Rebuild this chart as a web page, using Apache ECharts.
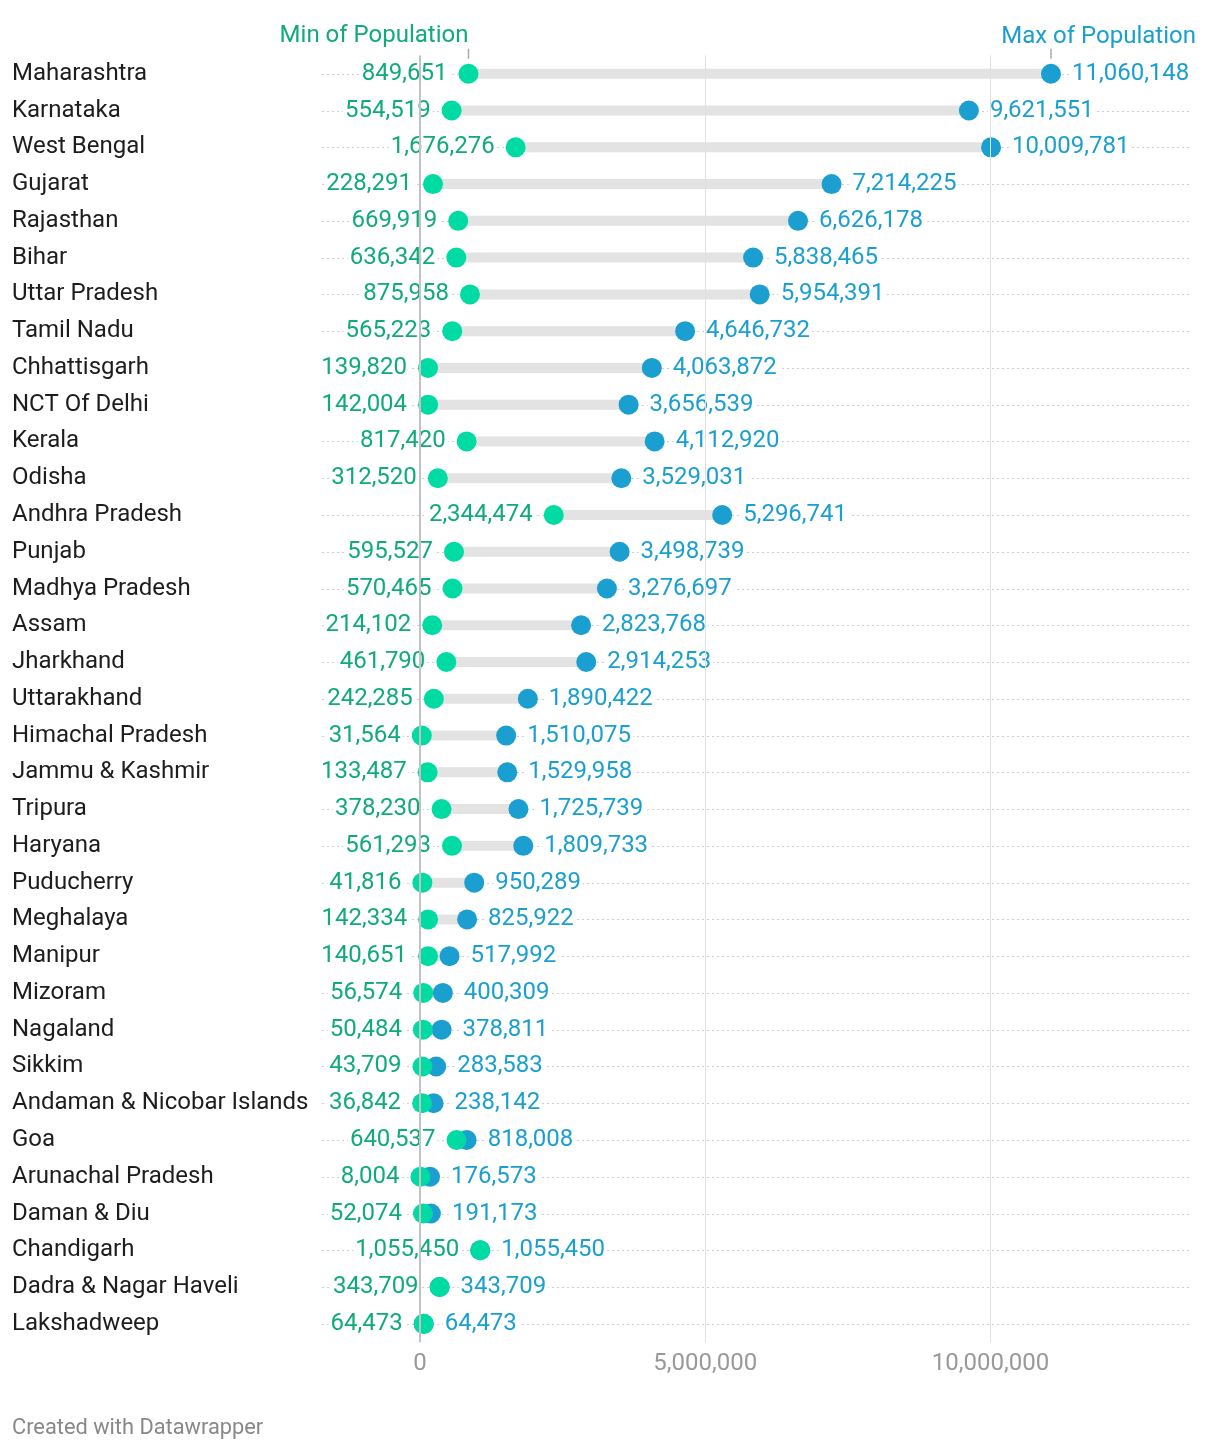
<!DOCTYPE html>
<html>
<head>
<meta charset="utf-8">
<script src="https://cdn.jsdelivr.net/npm/echarts@6/dist/echarts.min.js"></script>
<style>
html,body{margin:0;padding:0;background:#fff;}
#chart{width:1220px;height:1450px;}
</style>
</head>
<body>
<div id="chart"></div>
<script>
const states = ["Maharashtra","Karnataka","West Bengal","Gujarat","Rajasthan","Bihar","Uttar Pradesh","Tamil Nadu","Chhattisgarh","NCT Of Delhi","Kerala","Odisha","Andhra Pradesh","Punjab","Madhya Pradesh","Assam","Jharkhand","Uttarakhand","Himachal Pradesh","Jammu & Kashmir","Tripura","Haryana","Puducherry","Meghalaya","Manipur","Mizoram","Nagaland","Sikkim","Andaman & Nicobar Islands","Goa","Arunachal Pradesh","Daman & Diu","Chandigarh","Dadra & Nagar Haveli","Lakshadweep"];
const minPop = [849651,554519,1676276,228291,669919,636342,875958,565223,139820,142004,817420,312520,2344474,595527,570465,214102,461790,242285,31564,133487,378230,561293,41816,142334,140651,56574,50484,43709,36842,640537,8004,52074,1055450,343709,64473];
const maxPop = [11060148,9621551,10009781,7214225,6626178,5838465,5954391,4646732,4063872,3656539,4112920,3529031,5296741,3498739,3276697,2823768,2914253,1890422,1510075,1529958,1725739,1809733,950289,825922,517992,400309,378811,283583,238142,818008,176573,191173,1055450,343709,64473];
const xTicks = [0, 5000000, 10000000];
const minLabel = "Min of Population";
const maxLabel = "Max of Population";
const footer = "Created with Datawrapper";

const FONT = 'Roboto';
const FS = 24;
const GREEN = '#00dba3';
const GREEN_TEXT = '#10aa7c';
const BLUE = '#1a9fd0';
const BLUE_TEXT = '#1a9fd0';
const fmt = v => Number(v).toLocaleString('en-US');

const chart = echarts.init(document.getElementById('chart'), null, {renderer: 'canvas'});

const rowsData = states.map((s, i) => [i]);
const rangeData = states.map((s, i) => [minPop[i], maxPop[i], i]);

chart.setOption({
  animation: false,
  backgroundColor: '#fff',
  textStyle: {fontFamily: FONT},
  title: [
    {text: maxLabel, right: 19, top: 20, textStyle: {color: BLUE_TEXT, fontSize: FS, fontWeight: 'normal', fontFamily: FONT}},
    {text: footer, left: 7, top: 1413, textStyle: {color: '#888', fontSize: 21.8, fontWeight: 'normal', fontFamily: FONT}}
  ],
  grid: {left: 322, right: 30, top: 55.4, bottom: 107.8, containLabel: false},
  xAxis: {
    type: 'value',
    min: -1717800,
    max: 13497000,
    axisLine: {show: false},
    axisTick: {show: false},
    splitLine: {show: false},
    axisLabel: {
      customValues: xTicks,
      formatter: v => fmt(v),
      color: '#999',
      fontSize: FS,
      fontFamily: FONT,
      margin: 10
    }
  },
  yAxis: {
    type: 'category',
    data: states,
    inverse: true,
    axisLine: {show: false},
    axisTick: {show: false},
    splitLine: {show: false},
    axisLabel: {
      align: 'left',
      margin: 310,
      color: '#1d1d1d',
      fontSize: FS,
      fontFamily: FONT
    }
  },
  series: [
    {
      type: 'custom',
      name: 'rows',
      z: 1,
      silent: true,
      data: rowsData,
      encode: {y: 0},
      renderItem: function (params, api) {
        const y = api.coord([0, api.value(0)])[1];
        const cs = params.coordSys;
        return {
          type: 'line',
          shape: {x1: cs.x, y1: Math.round(y) + 0.5, x2: cs.x + cs.width, y2: Math.round(y) + 0.5},
          style: {stroke: '#cfcfcf', lineWidth: 1, lineDash: [2, 3]}
        };
      },
      markLine: {
        silent: true,
        symbol: 'none',
        label: {show: false},
        data: xTicks.map(v => ({
          xAxis: v,
          lineStyle: {color: v === 0 ? '#c2c2c2' : '#e0e0e0', width: v === 0 ? 2 : 1, type: 'solid'}
        }))
      }
    },
    {
      type: 'custom',
      name: 'range',
      z: 2,
      silent: true,
      data: rangeData,
      encode: {x: [0, 1], y: 2},
      renderItem: function (params, api) {
        const a = api.coord([api.value(0), api.value(2)]);
        const b = api.coord([api.value(1), api.value(2)]);
        const h = 10;
        return {
          type: 'rect',
          shape: {x: a[0], y: a[1] - h / 2, width: b[0] - a[0], height: h},
          style: {fill: '#e3e3e3'}
        };
      }
    },
    {
      type: 'scatter',
      name: maxLabel,
      z: 3,
      symbolSize: 20,
      itemStyle: {color: BLUE, opacity: 1},
      data: states.map((s, i) => [maxPop[i], s]),
      label: {
        show: true,
        position: 'right',
        distance: 9,
        formatter: p => fmt(p.value[0]),
        color: BLUE_TEXT,
        fontSize: FS,
        fontFamily: FONT,
        backgroundColor: '#fff',
        padding: [0, 2]
      },
      markPoint: {
        silent: true,
        data: [{
          coord: [maxPop[0], states[0]],
          symbol: 'rect',
          symbolSize: [1.5, 10],
          symbolOffset: [0, -20],
          itemStyle: {color: '#aaa'},
          label: {show: false}
        }]
      }
    },
    {
      type: 'scatter',
      name: minLabel,
      z: 4,
      symbolSize: 20,
      itemStyle: {color: GREEN, opacity: 1},
      data: states.map((s, i) => [minPop[i], s]),
      label: {
        show: true,
        position: 'left',
        distance: 9,
        formatter: p => fmt(p.value[0]),
        color: GREEN_TEXT,
        fontSize: FS,
        fontFamily: FONT,
        backgroundColor: '#fff',
        padding: [0, 2]
      },
      markPoint: {
        silent: true,
        data: [{
          coord: [minPop[0], states[0]],
          symbol: 'rect',
          symbolSize: [1.5, 10],
          symbolOffset: [0, -20],
          itemStyle: {color: '#aaa'},
          label: {show: false}
        }, {
          coord: [minPop[0], states[0]],
          symbol: 'circle',
          symbolSize: 0,
          label: {
            show: true,
            position: 'inside',
            formatter: minLabel,
            align: 'right',
            verticalAlign: 'middle',
            offset: [0, -38],
            color: GREEN_TEXT,
            fontSize: FS,
            fontFamily: FONT
          }
        }]
      }
    }
  ]
});
</script>
</body>
</html>
